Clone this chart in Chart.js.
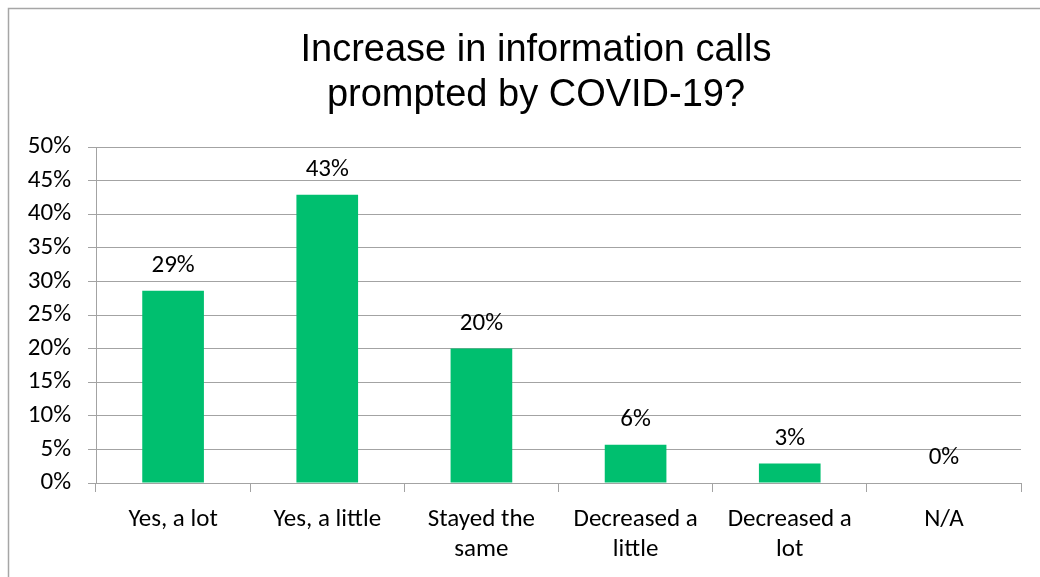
<!DOCTYPE html>
<html>
<head>
<meta charset="utf-8">
<script src="https://cdn.jsdelivr.net/npm/chart.js@4"></script>
<style>
  html, body { margin: 0; padding: 0; background: #fff; }
  #wrap { width: 1040px; height: 577px; position: relative; }
</style>
</head>
<body>
<div id="wrap"><canvas id="chart" width="1040" height="577"></canvas></div>
<script>
// ── DATA ────────────────────────────────────────────────────
const titleLines = ['Increase in information calls', 'prompted by COVID-19?'];
const categories = [
	['Yes, a lot'],
	['Yes, a little'],
	['Stayed the', 'same'],
	['Decreased a', 'little'],
	['Decreased a', 'lot'],
	['N/A']
];
const shares = [28.6, 42.9, 20.0, 5.7, 2.9, 0];
const yTicks = [0, 5, 10, 15, 20, 25, 30, 35, 40, 45, 50];

// ── STYLE ───────────────────────────────────────────────────
const BAR = '#00BF6F';
const GRID = '#a3a3a3';
const TXT = '#000';
const LABEL_FONT = { family: 'Carlito, Calibri, Lato, sans-serif', size: 25 };

// outer frame (only left + top visible)
const framePlugin = {
	id: 'frame',
	beforeDraw(chart) {
		const c = chart.ctx;
		c.save();
		c.strokeStyle = '#a6a6a6';
		c.lineWidth = 1.5;
		c.beginPath();
		c.moveTo(8.5, chart.height);
		c.lineTo(8.5, 8.5);
		c.lineTo(chart.width, 8.5);
		c.stroke();
		c.restore();
	}
};

// two-line heading, centred a bit right of the canvas middle
const headingPlugin = {
	id: 'heading',
	afterDraw(chart) {
		const c = chart.ctx;
		c.save();
		c.fillStyle = TXT;
		c.font = '38px "Liberation Sans", Arial, sans-serif';
		c.textAlign = 'center';
		c.textBaseline = 'middle';
		titleLines.forEach((line, i) => c.fillText(line, 536, 51 + i * 45));
		c.restore();
	}
};

// value labels above each bar
const valueLabels = {
	id: 'valueLabels',
	afterDatasetsDraw(chart) {
		const c = chart.ctx;
		const meta = chart.getDatasetMeta(0);
		c.save();
		c.fillStyle = TXT;
		c.font = `${LABEL_FONT.size}px ${LABEL_FONT.family}`;
		c.textAlign = 'center';
		c.textBaseline = 'middle';
		meta.data.forEach((bar, i) => {
			c.fillText(Math.round(shares[i]) + '%', bar.x, bar.y - 25);
		});
		c.restore();
	}
};

new Chart(document.getElementById('chart'), {
	type: 'bar',
	data: {
		labels: categories,
		datasets: [{
			data: shares,
			backgroundColor: BAR,
			borderWidth: 0,
			categoryPercentage: 1,
			barPercentage: 0.4
		}]
	},
	options: {
		responsive: false,
		animation: false,
		layout: { padding: { left: 0, right: 19, top: 147, bottom: 0 } },
		plugins: {
			legend: { display: false },
			tooltip: { enabled: false },
			title: { display: false }
		},
		scales: {
			x: {
				offset: true,
				grid: {
					display: true,
					offset: true,
					drawOnChartArea: false,
					drawTicks: true,
					tickLength: 9,
					color: GRID
				},
				border: { color: GRID, width: 1 },
				ticks: {
					color: TXT,
					font: { ...LABEL_FONT, lineHeight: 1.2 },
					padding: 13,
					maxRotation: 0,
					autoSkip: false
				},
				afterFit(s) { s.height = 94; }
			},
			y: {
				min: 0,
				max: 50,
				afterBuildTicks(s) { s.ticks = yTicks.map(v => ({ value: v })); },
				grid: { color: GRID, lineWidth: 1, tickLength: 8 },
				border: { color: GRID, width: 1 },
				ticks: {
					color: TXT,
					font: LABEL_FONT,
					padding: 17,
					callback: v => v + '%'
				},
				afterFit(s) { s.width = 96; }
			}
		}
	},
	plugins: [framePlugin, headingPlugin, valueLabels]
});
</script>
</body>
</html>
